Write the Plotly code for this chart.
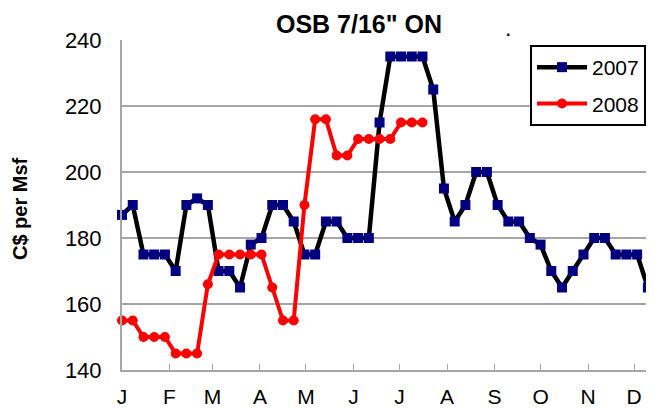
import pandas as pd
import plotly.graph_objects as go

# Weekly observation dates (both years plotted on the same calendar axis)
weeks = pd.date_range("2007-01-01", periods=50, freq="7D")

price_2007 = [187, 190, 175, 175, 175, 170, 190, 192, 190, 170,
              170, 165, 178, 180, 190, 190, 185, 175, 175, 185,
              185, 180, 180, 180, 215, 235, 235, 235, 235, 225,
              195, 185, 190, 200, 200, 190, 185, 185, 180, 178,
              170, 165, 170, 175, 180, 180, 175, 175, 175, 165]

price_2008 = [155, 155, 150, 150, 150, 145, 145, 145, 166, 175,
              175, 175, 175, 175, 165, 155, 155, 190, 216, 216,
              205, 205, 210, 210, 210, 210, 215, 215, 215]

month_starts = pd.date_range("2007-01-01", periods=12, freq="MS")
month_labels = ["J", "F", "M", "A", "M", "J", "J", "A", "S", "O", "N", "D"]

FONT = "Liberation Sans, Arial, sans-serif"
GRID = "#a6a6a6"
OFF = 8  # default page body margin

fig = go.Figure()
fig.add_trace(go.Scatter(
    x=weeks, y=price_2007, name="2007", mode="lines+markers",
    line=dict(color="black", width=4.5),
    marker=dict(symbol="square", size=10, color="#000080"),
    legendgroup="a", cliponaxis=False,
))
fig.add_trace(go.Scatter(
    x=weeks[:len(price_2008)], y=price_2008, name="2008", mode="lines+markers",
    line=dict(color="#ff0000", width=4),
    marker=dict(symbol="circle", size=10, color="#ff0000"),
    legendgroup="b", cliponaxis=False,
))

W, H = 654 - OFF, 409 - OFF
fig.update_layout(
    width=W, height=H,
    margin=dict(l=122 - OFF, r=0, t=40 - OFF, b=H - (370 - OFF), autoexpand=False),
    paper_bgcolor="white", plot_bgcolor="white",
    font=dict(family=FONT, color="black"),
    title=dict(text="<b>OSB 7/16\" ON</b>", font=dict(family=FONT, size=25, color="black"),
               x=(359 - OFF) / W, xref="container", xanchor="center",
               y=1 - (24 - OFF) / H, yref="container", yanchor="middle"),
    showlegend=True,
    legend=dict(x=(530 - 122) / 532, y=(370 - 45) / 330, xanchor="left", yanchor="top",
                font=dict(family=FONT, size=21, color="black"),
                bordercolor="black", borderwidth=2, bgcolor="white",
                itemwidth=50, tracegroupgap=6),
    xaxis=dict(
        type="date", range=["2007-01-01", "2007-12-14"],
        tickvals=month_starts, ticktext=month_labels,
        ticks="inside", ticklen=6, tickwidth=1, tickcolor=GRID,
        showgrid=False, zeroline=False, automargin=False,
        showline=True, linecolor=GRID, linewidth=2,
        tickfont=dict(family=FONT, size=21, color="black"),
        ticklabelstandoff=7,
    ),
    yaxis=dict(
        range=[140, 240], dtick=20, tick0=140, automargin=False,
        showgrid=True, gridcolor=GRID, gridwidth=2, zeroline=False,
        showline=True, linecolor=GRID, linewidth=2,
        ticks="", tickfont=dict(family=FONT, size=22, color="black"),
        ticklabelstandoff=14,
    ),
    annotations=[
        dict(text="<b>C$ per Msf</b>", xref="paper", yref="paper",
             x=(20 - 122) / 532, y=(370 - 209) / 330, textangle=-90,
             showarrow=False, xanchor="center", yanchor="middle",
             font=dict(family=FONT, size=20, color="black")),
        dict(text="<b>.</b>", xref="paper", yref="paper",
             x=(508 - 122) / 532, y=(370 - 30) / 330,
             showarrow=False, xanchor="center", yanchor="middle",
             font=dict(family=FONT, size=16, color="black")),
    ],
)

fig.write_html("out.html")
